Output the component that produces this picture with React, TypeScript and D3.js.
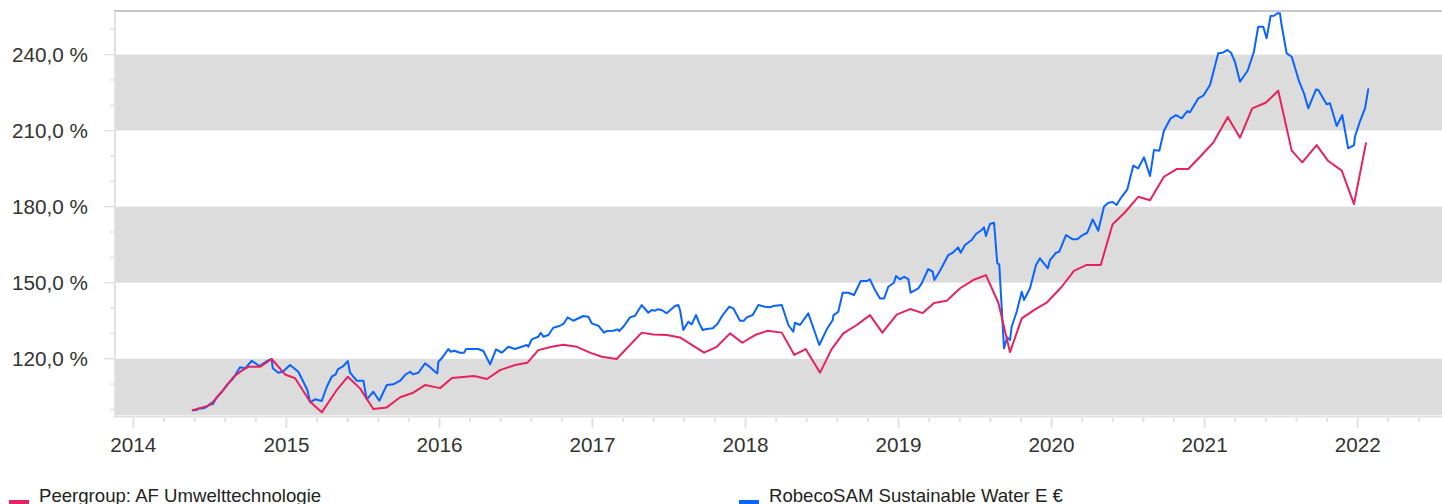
import React from "react";
import * as d3 from "d3";

// ---- data (time as decimal year, value in %) ----
const seriesNames = ["Peergroup: AF Umwelttechnologie", "RobecoSAM Sustainable Water E €"];
const seriesColors = ["#e6235f", "#0a64ff"];

const peerSeries: [number, number][] = [
  [2014.388, 99.7], [2014.501, 101.7], [2014.588, 107.65], [2014.653, 112.7], [2014.708, 115.3],
  [2014.751, 116.8], [2014.828, 116.8], [2014.904, 119.9], [2014.991, 113.8], [2015.057, 112.3],
  [2015.155, 103.0], [2015.231, 98.85], [2015.329, 107.65], [2015.401, 112.9], [2015.481, 108.3],
  [2015.568, 100.15], [2015.656, 100.8], [2015.743, 104.8], [2015.829, 106.6], [2015.906, 109.6],
  [2016.004, 108.4], [2016.082, 112.4], [2016.226, 113.2], [2016.311, 112.0], [2016.396, 115.5],
  [2016.494, 117.5], [2016.574, 118.4], [2016.646, 123.4], [2016.734, 124.7], [2016.810, 125.5],
  [2016.897, 124.7], [2016.984, 122.4], [2017.060, 120.8], [2017.158, 119.9], [2017.322, 130.3],
  [2017.398, 129.6], [2017.485, 129.35], [2017.572, 128.4], [2017.729, 122.4], [2017.812, 124.7],
  [2017.899, 130.0], [2017.979, 126.3], [2018.062, 129.35], [2018.142, 131.0], [2018.237, 130.3],
  [2018.319, 121.5], [2018.393, 123.8], [2018.487, 114.5], [2018.563, 123.8], [2018.639, 130.0],
  [2018.727, 133.3], [2018.813, 137.2], [2018.894, 130.3], [2018.988, 137.4], [2019.075, 139.6],
  [2019.158, 138.0], [2019.232, 142.0], [2019.315, 142.9], [2019.402, 147.8], [2019.488, 151.05],
  [2019.571, 153.0], [2019.652, 142.1], [2019.728, 122.6], [2019.805, 135.9], [2019.892, 139.5],
  [2019.968, 142.1], [2020.066, 148.4], [2020.146, 154.7], [2020.229, 157.0], [2020.321, 157.0],
  [2020.398, 172.95], [2020.480, 177.8], [2020.566, 183.9], [2020.643, 182.5], [2020.734, 191.8],
  [2020.817, 194.85], [2020.893, 194.85], [2020.970, 199.7], [2021.056, 205.2], [2021.151, 215.4],
  [2021.231, 207.2], [2021.311, 218.8], [2021.399, 221.0], [2021.481, 225.7], [2021.569, 202.1],
  [2021.638, 197.5], [2021.732, 204.3], [2021.808, 198.0], [2021.896, 194.2], [2021.976, 181.0],
  [2022.054, 205.0],
];

const fundSeries: [number, number][] = [
  [2014.388, 99.7], [2014.414, 99.8], [2014.425, 100.27], [2014.457, 100.43], [2014.480, 101.06],
  [2014.506, 102.40], [2014.519, 102.01], [2014.545, 104.77], [2014.578, 106.98], [2014.610, 109.62],
  [2014.653, 112.27], [2014.697, 116.61], [2014.730, 116.21], [2014.774, 119.21], [2014.823, 117.12],
  [2014.876, 119.21], [2014.904, 119.88], [2014.911, 116.21], [2014.947, 114.48], [2014.976, 114.87],
  [2015.024, 117.51], [2015.078, 114.87], [2015.137, 107.65], [2015.155, 102.80], [2015.187, 103.98],
  [2015.231, 103.31], [2015.264, 108.95], [2015.296, 112.90], [2015.322, 113.84], [2015.336, 115.82],
  [2015.372, 117.12], [2015.401, 119.09], [2015.416, 114.48], [2015.460, 111.32], [2015.503, 111.32],
  [2015.525, 103.98], [2015.568, 106.98], [2015.607, 103.43], [2015.656, 109.62], [2015.699, 109.90],
  [2015.743, 111.32], [2015.775, 113.57], [2015.808, 114.87], [2015.826, 113.84], [2015.862, 114.48],
  [2015.906, 118.19], [2015.939, 116.61], [2015.971, 114.87], [2015.986, 114.24], [2015.993, 118.82],
  [2016.015, 120.16], [2016.058, 123.83], [2016.074, 122.76], [2016.097, 123.16], [2016.135, 122.37],
  [2016.161, 122.37], [2016.174, 123.83], [2016.254, 123.83], [2016.287, 123.04], [2016.331, 117.79],
  [2016.370, 123.71], [2016.407, 122.37], [2016.450, 124.73], [2016.494, 123.83], [2016.538, 124.73],
  [2016.570, 125.41], [2016.581, 124.73], [2016.603, 127.65], [2016.646, 128.68], [2016.662, 130.26],
  [2016.679, 128.68], [2016.712, 129.35], [2016.744, 132.23], [2016.788, 133.02], [2016.814, 133.97],
  [2016.838, 136.33], [2016.875, 134.99], [2016.940, 136.85], [2016.973, 136.57], [2016.995, 133.97],
  [2017.038, 133.02], [2017.075, 130.26], [2017.093, 130.93], [2017.136, 131.05], [2017.165, 131.60],
  [2017.175, 130.93], [2017.202, 132.63], [2017.245, 136.33], [2017.278, 136.97], [2017.322, 141.19],
  [2017.365, 138.15], [2017.387, 139.22], [2017.409, 138.94], [2017.424, 139.49], [2017.452, 139.22],
  [2017.485, 137.91], [2017.539, 140.79], [2017.561, 141.19], [2017.572, 139.22], [2017.594, 131.32],
  [2017.626, 134.60], [2017.648, 133.57], [2017.677, 137.24], [2017.698, 133.97], [2017.720, 131.32],
  [2017.746, 131.72], [2017.786, 131.99], [2017.816, 133.69], [2017.851, 137.24], [2017.894, 140.52],
  [2017.920, 139.89], [2017.964, 134.99], [2017.990, 134.99], [2018.008, 136.33], [2018.047, 137.24],
  [2018.084, 141.19], [2018.127, 140.52], [2018.160, 140.28], [2018.182, 140.79], [2018.237, 141.19],
  [2018.280, 133.30], [2018.312, 130.65], [2018.323, 134.20], [2018.356, 133.30], [2018.410, 137.91],
  [2018.448, 131.32], [2018.482, 125.41], [2018.531, 131.60], [2018.570, 135.27], [2018.574, 137.12],
  [2018.606, 138.54], [2018.635, 146.04], [2018.672, 146.04], [2018.709, 145.13], [2018.753, 150.66],
  [2018.792, 150.66], [2018.813, 151.33], [2018.846, 147.11], [2018.879, 143.75], [2018.905, 143.75],
  [2018.933, 148.41], [2018.970, 149.99], [2018.983, 152.63], [2019.009, 151.33], [2019.036, 152.35],
  [2019.064, 151.45], [2019.079, 146.04], [2019.129, 147.78], [2019.151, 149.75], [2019.194, 155.39],
  [2019.223, 154.33], [2019.234, 151.05], [2019.271, 154.72], [2019.325, 160.92], [2019.354, 161.82],
  [2019.390, 163.95], [2019.406, 161.82], [2019.434, 164.86], [2019.478, 166.83], [2019.506, 169.20],
  [2019.543, 170.78], [2019.558, 171.84], [2019.571, 168.41], [2019.597, 173.15], [2019.624, 173.66],
  [2019.645, 157.64], [2019.658, 157.25], [2019.689, 124.10], [2019.710, 128.44], [2019.728, 127.38],
  [2019.739, 132.63], [2019.772, 138.54], [2019.805, 146.44], [2019.820, 143.16], [2019.859, 147.78],
  [2019.898, 156.97], [2019.924, 159.61], [2019.975, 155.67], [2019.990, 158.94], [2020.029, 161.82],
  [2020.050, 162.22], [2020.094, 168.81], [2020.138, 167.11], [2020.168, 167.11], [2020.203, 168.81],
  [2020.233, 169.71], [2020.269, 175.00], [2020.305, 170.50], [2020.342, 179.97], [2020.371, 181.55],
  [2020.399, 181.83], [2020.425, 180.64], [2020.451, 183.29], [2020.495, 186.84], [2020.534, 196.23],
  [2020.566, 195.12], [2020.604, 199.46], [2020.643, 192.09], [2020.669, 202.34], [2020.704, 202.07],
  [2020.734, 209.96], [2020.778, 214.85], [2020.813, 216.15], [2020.850, 214.85], [2020.887, 217.73],
  [2020.904, 217.22], [2020.959, 222.74], [2020.991, 223.77], [2021.035, 227.99], [2021.089, 240.50],
  [2021.118, 240.74], [2021.148, 241.80], [2021.172, 240.74], [2021.198, 237.18], [2021.231, 229.29],
  [2021.281, 233.63], [2021.322, 241.13], [2021.350, 250.99], [2021.383, 250.99], [2021.405, 246.42],
  [2021.431, 255.22], [2021.453, 255.33], [2021.475, 256.28], [2021.492, 256.28], [2021.503, 251.66],
  [2021.536, 240.50], [2021.569, 239.16], [2021.618, 229.29], [2021.649, 224.72], [2021.677, 218.80],
  [2021.728, 226.29], [2021.743, 226.02], [2021.797, 220.38], [2021.819, 220.77], [2021.863, 211.81],
  [2021.899, 216.15], [2021.938, 203.01], [2021.976, 204.32], [2021.982, 207.59], [2022.014, 213.51],
  [2022.048, 218.80], [2022.069, 226.29],
];

const yMajorTicks = [90, 120, 150, 180, 210, 240, 270];
const yMinorStep = 10;
const xYears = [2014, 2015, 2016, 2017, 2018, 2019, 2020, 2021, 2022];
const xMinorPerYear = 5;

// ---- layout ----
const W = 1442;
const H = 504;
const L = 115, R = 1442, T = 11, B = 415;
const FONT = "'Liberation Sans', Arial, Helvetica, sans-serif";

export default function App() {
  const x = d3.scaleLinear().domain([2013.88, 2022.551]).range([L, R]);
  const y = d3.scaleLinear().domain([97.8, 257.2]).range([B, T]);
  const [yMin, yMax] = y.domain();
  const [xMin, xMax] = x.domain();

  const line = d3
    .line<[number, number]>()
    .x((d) => x(d[0]))
    .y((d) => y(d[1]));

  const fmt = (v: number) => d3.format(".1f")(v).replace(".", ",") + " %";

  const bands: [number, number][] = [];
  for (let i = 0; i + 1 < yMajorTicks.length; i += 2) {
    const a = Math.max(yMajorTicks[i], yMin);
    const b = Math.min(yMajorTicks[i + 1], yMax);
    if (b > a) bands.push([a, b]);
  }

  const yMinor: number[] = [];
  for (let v = Math.ceil(yMin / yMinorStep) * yMinorStep; v <= yMax; v += yMinorStep) {
    if (!yMajorTicks.includes(v)) yMinor.push(v);
  }
  const yMajorVisible = yMajorTicks.filter((v) => v >= yMin && v <= yMax);

  const xMinor: number[] = [];
  for (const yr of [xYears[0] - 1, ...xYears]) {
    for (let k = 1; k < xMinorPerYear; k++) {
      const t = yr + k / xMinorPerYear;
      if (t >= xMin && t <= xMax) xMinor.push(t);
    }
  }

  const axisColor = "#e1e1e1";

  return (
    <svg
      width={W}
      height={H}
      style={{ position: "absolute", left: 0, top: 0, display: "block", background: "#fff" }}
    >
      <defs>
        <clipPath id="plotClip">
          <rect x={L} y={T - 2} width={R - L} height={B - T + 2} />
        </clipPath>
      </defs>

      {bands.map(([a, b], i) => (
        <rect key={i} x={L} y={y(b)} width={R - L} height={y(a) - y(b)} fill="#dcdcdc" />
      ))}

      {/* y axis */}
      <line x1={L} x2={L} y1={T} y2={B + 3} stroke={axisColor} strokeWidth={2} />
      {yMajorVisible.map((v) => (
        <g key={"ym" + v}>
          <line x1={L - 11} x2={L} y1={y(v)} y2={y(v)} stroke={axisColor} strokeWidth={1.5} />
          <text
            x={88}
            y={y(v)}
            dy="0.35em"
            textAnchor="end"
            fontFamily={FONT}
            fontSize={20.7}
            fill="#333"
          >
            {fmt(v)}
          </text>
        </g>
      ))}
      {yMinor.map((v) => (
        <line key={"yn" + v} x1={L - 5} x2={L} y1={y(v)} y2={y(v)} stroke={axisColor} strokeWidth={1.5} />
      ))}

      {/* x axis */}
      <line x1={L} x2={R} y1={B + 1.5} y2={B + 1.5} stroke={axisColor} strokeWidth={2} />
      {xYears.map((yr) => (
        <g key={"xm" + yr}>
          <line x1={x(yr)} x2={x(yr)} y1={B + 3} y2={B + 13} stroke={axisColor} strokeWidth={2} />
          <text x={x(yr)} y={452} textAnchor="middle" fontFamily={FONT} fontSize={20.7} fill="#333">
            {yr}
          </text>
        </g>
      ))}
      {xMinor.map((t, i) => (
        <line key={"xn" + i} x1={x(t)} x2={x(t)} y1={B + 3} y2={B + 7} stroke={axisColor} strokeWidth={2} />
      ))}

      {/* series */}
      <g clipPath="url(#plotClip)" fill="none" strokeWidth={2} strokeLinejoin="round" strokeLinecap="round">
        <path d={line(fundSeries) || ""} stroke={seriesColors[1]} />
        <path d={line(peerSeries) || ""} stroke={seriesColors[0]} />
      </g>

      {/* top border */}
      <line x1={L - 1} x2={R} y1={T} y2={T} stroke="#c8c8c8" strokeWidth={2} />

      {/* legend */}
      {[0, 1].map((i) => {
        const lx = i === 0 ? 9 : 739;
        return (
          <g key={"lg" + i}>
            <rect x={lx} y={500} width={20} height={12} fill={seriesColors[i]} />
            <text x={lx + 30} y={502} fontFamily={FONT} fontSize={18.6} fill="#222">
              {seriesNames[i]}
            </text>
          </g>
        );
      })}
    </svg>
  );
}
